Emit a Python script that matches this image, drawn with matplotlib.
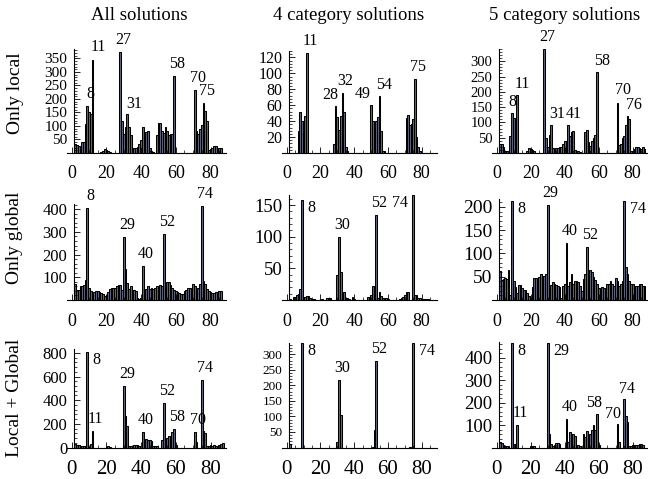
import matplotlib
matplotlib.use('Agg')
import matplotlib.pyplot as plt
import numpy as np
from matplotlib.ticker import MultipleLocator, AutoMinorLocator

plt.rcParams['font.family'] = ['Liberation Serif', 'DejaVu Serif']

#%% Data: number of solutions per index (1..86)

idx = np.arange(1, 87)

local_all = [35, 30, 25, 10, 40, 40, 106, 173, 152, 145,
             343, 0, 0, 0, 0, 3, 8, 15, 12, 8,
             3, 0, 0, 0, 0, 0, 374, 118, 72, 96,
             143, 96, 65, 20, 20, 20, 22, 35, 47, 96,
             65, 78, 80, 20, 8, 3, 0, 68, 110, 110,
             80, 75, 98, 80, 65, 70, 70, 284, 0, 0,
             0, 0, 0, 0, 0, 0, 0, 0, 0, 235,
             80, 70, 88, 105, 185, 155, 120, 10, 15, 18,
             25, 25, 20, 20, 18, 0]
local_4cat = [0, 0, 0, 0, 0, 27, 52, 40, 33, 46,
              126, 0, 0, 0, 0, 0, 0, 0, 0, 0,
              0, 0, 0, 0, 0, 0, 11, 59, 45, 29,
              47, 75, 51, 8, 2, 0, 0, 0, 0, 0,
              0, 0, 0, 0, 0, 0, 0, 0, 60, 40,
              37, 40, 45, 71, 27, 3, 3, 0, 0, 0,
              0, 0, 0, 0, 0, 0, 0, 0, 0, 44,
              48, 35, 36, 43, 93, 20, 8, 2, 0, 0,
              0, 0, 0, 0, 0, 0]
local_5cat = [30, 30, 20, 8, 8, 8, 55, 130, 115, 92,
              188, 0, 0, 0, 0, 0, 5, 15, 13, 10,
              5, 0, 0, 0, 0, 0, 340, 48, 20, 60,
              92, 15, 8, 15, 15, 18, 18, 30, 38, 38,
              92, 55, 68, 72, 10, 5, 5, 3, 0, 0,
              68, 75, 35, 22, 40, 50, 60, 265, 0, 0,
              0, 0, 0, 0, 0, 0, 0, 0, 0, 165,
              25, 30, 50, 55, 90, 122, 110, 8, 8, 12,
              18, 20, 15, 12, 20, 12]

global_all = [70, 45, 45, 60, 60, 65, 90, 405, 55, 40,
              30, 35, 40, 38, 35, 30, 25, 18, 20, 35,
              50, 52, 55, 55, 60, 65, 65, 45, 279, 135,
              75, 50, 60, 45, 45, 40, 10, 5, 8, 148,
              40, 50, 60, 50, 55, 50, 55, 60, 55, 65,
              60, 290, 55, 80, 80, 65, 55, 45, 40, 35,
              30, 28, 25, 40, 45, 55, 55, 50, 70, 60,
              40, 55, 70, 415, 85, 70, 50, 40, 35, 30,
              30, 35, 35, 40, 40, 0]
global_4cat = [2, 0, 5, 5, 8, 10, 18, 158, 5, 5,
               6, 6, 3, 2, 1, 0, 0, 0, 0, 1,
               0, 0, 3, 3, 3, 0, 0, 0, 40, 100,
               45, 8, 12, 3, 3, 2, 0, 5, 1, 0,
               0, 0, 0, 0, 0, 0, 5, 5, 8, 22,
               20, 135, 3, 12, 6, 3, 2, 3, 2, 0,
               0, 0, 0, 0, 0, 1, 3, 5, 8, 12,
               13, 0, 0, 166, 8, 8, 3, 3, 2, 2,
               2, 2, 2, 0, 0, 0]
global_5cat = [62, 42, 45, 48, 45, 65, 10, 213, 40, 28,
               15, 32, 32, 25, 22, 22, 15, 8, 5, 28,
               48, 48, 45, 50, 55, 50, 52, 55, 204, 30,
               32, 38, 35, 32, 30, 28, 5, 30, 35, 122,
               30, 38, 55, 35, 40, 40, 38, 30, 20, 45,
               55, 113, 48, 65, 60, 50, 42, 35, 25, 15,
               28, 25, 20, 35, 35, 40, 35, 30, 48, 40,
               30, 35, 40, 213, 70, 55, 40, 35, 35, 30,
               30, 30, 35, 35, 30, 30]

both_all = [30, 25, 20, 10, 10, 10, 10, 810, 5, 30,
            140, 0, 0, 0, 0, 0, 0, 0, 8, 10,
            5, 0, 0, 0, 0, 0, 0, 0, 520, 270,
            180, 15, 10, 15, 25, 25, 20, 10, 0, 130,
            35, 75, 60, 65, 55, 15, 15, 10, 0, 0,
            60, 380, 25, 80, 100, 100, 130, 155, 25, 0,
            0, 0, 0, 0, 0, 0, 0, 0, 0, 135,
            45, 0, 0, 575, 140, 120, 15, 15, 20, 15,
            20, 15, 15, 20, 30, 35]
both_4cat = [12, 0, 0, 0, 0, 0, 0, 337, 0, 0,
             0, 0, 0, 0, 0, 0, 0, 0, 0, 0,
             0, 0, 0, 0, 0, 0, 0, 0, 18, 218,
             105, 0, 0, 0, 0, 0, 0, 0, 0, 0,
             0, 0, 0, 0, 0, 0, 0, 0, 0, 3,
             55, 280, 0, 0, 0, 0, 0, 0, 0, 0,
             0, 0, 0, 0, 0, 0, 0, 0, 0, 0,
             0, 3, 0, 337, 0, 0, 0, 0, 0, 0,
             0, 0, 0, 0, 0, 0]
both_5cat = [25, 20, 12, 8, 8, 5, 0, 465, 15, 5,
             98, 0, 0, 0, 0, 0, 0, 0, 5, 8,
             5, 0, 0, 0, 0, 0, 0, 0, 465, 60,
             15, 8, 10, 20, 20, 15, 0, 0, 0, 125,
             25, 70, 45, 58, 52, 10, 12, 8, 0, 60,
             45, 75, 30, 60, 80, 98, 80, 148, 10, 0,
             0, 0, 0, 0, 0, 0, 0, 0, 0, 105,
             25, 0, 0, 215, 140, 112, 5, 5, 12, 10,
             12, 12, 15, 15, 12, 0]

col_titles = ['All solutions', '4 category solutions', '5 category solutions']
row_titles = ['Only local', 'Only global', 'Local + Global']

series = [[local_all, local_4cat, local_5cat],
          [global_all, global_4cat, global_5cat],
          [both_all, both_4cat, both_5cat]]

peak_labels = [[[8, 11, 27, 31, 58, 70, 75], [11, 28, 32, 49, 54, 75], [8, 11, 27, 31, 41, 58, 70, 76]],
               [[8, 29, 40, 52, 74], [8, 30, 52, 74], [8, 29, 40, 52, 74]],
               [[8, 11, 29, 40, 52, 58, 70, 74], [8, 30, 52, 74], [8, 11, 29, 40, 58, 70, 74]]]

y_major = [[50, 20, 50], [100, 50, 50], [200, 50, 100]]
y_top = [[385, 128, 340], [423, 166, 217], [833, 338, 469]]

#%% Layout (pixels of a 648x479 figure)

W, H = 648., 479.
col_x0 = [71.7, 286.7, 496.7]       # pixel of x = 0
col_sx = [1.735, 1.6875, 1.70]      # pixel per unit
row_base = [153., 300., 447.5]      # pixel of baseline
top_px = [[49, 51, 49], [204, 195, 199], [349, 342.5, 342]]
ytick_fs = [[11, 11.5, 10.5], [12, 13.5, 14], [12, 9.5, 13.5]]
xtick_fs = [13, 13, 15]
x_lo, x_hi = -2.5, 89.0

bar_face = '#61677a'

# label nudges in pixels (dx, dy) relative to bar top centre
nudge = {}
nudge[(0, 0)] = {11: (6, 5), 31: (7, 2)}
nudge[(0, 1)] = {28: (-5, 3), 49: (-8, 3), 54: (5, 3)}
nudge[(0, 2)] = {8: (0, 3), 11: (5, 3), 31: (6, 3), 41: (6, 3), 58: (5, 3), 70: (6, 5), 76: (6, 3)}
nudge[(2, 2)] = {58: (-3, 3), 70: (-4, 2), 74: (3, 2)}
side_labels = {(1, 1): {8: 'right', 74: 'left'}, (1, 2): {8: 'right', 74: 'right'},
               (2, 1): {8: 'right', 74: 'right'}, (2, 2): {8: 'right', 29: 'right'},
               (2, 0): {8: 'right'}}

fig = plt.figure(figsize=(W / 100, H / 100), dpi=100)

for r in range(3):
    for c in range(3):
        x0, sx = col_x0[c], col_sx[c]
        left = x0 + sx * x_lo
        width = sx * (x_hi - x_lo)
        bottom = row_base[r]
        top = top_px[r][c]
        ax = fig.add_axes([left / W, 1 - bottom / H, width / W, (bottom - top) / H])
        vals = np.array(series[r][c], dtype=float)
        ax.bar(idx + 1, vals, width=1.0, color=bar_face, edgecolor='black', linewidth=0.75)
        ax.set_xlim(x_lo, x_hi)
        ax.set_ylim(0, y_top[r][c])
        ax.spines['top'].set_visible(False)
        ax.spines['right'].set_visible(False)
        ax.spines['left'].set_position(('data', 1.5))
        ax.spines['left'].set_linewidth(0.8)
        ax.spines['bottom'].set_linewidth(0.8)
        ax.patch.set_visible(False)
        ax.xaxis.set_major_locator(MultipleLocator(20))
        ax.xaxis.set_minor_locator(MultipleLocator(5))
        ax.yaxis.set_major_locator(MultipleLocator(y_major[r][c]))
        ax.yaxis.set_minor_locator(AutoMinorLocator(5))
        ax.tick_params(axis='both', which='major', direction='in', length=4, width=0.6)
        ax.tick_params(axis='both', which='minor', direction='in', length=2, width=0.5)
        ax.tick_params(axis='x', labelsize=xtick_fs[r], pad=9)
        ax.tick_params(axis='y', labelsize=ytick_fs[r][c], pad=5)
        yt = [t for t in ax.get_yticks() if 0 < t <= y_top[r][c] or (r == 2 and c == 0 and t == 0)]
        ax.set_yticks(yt)
        ax.set_yticklabels(['%d' % t for t in yt])

        for k in peak_labels[r][c]:
            h = vals[k - 1]
            side = side_labels.get((r, c), {}).get(k)
            if side == 'right':
                ax.annotate(str(k), (k + 1, h), xytext=(4, 0), textcoords='offset points',
                            ha='left', va='top', fontsize=11.5, annotation_clip=False)
            elif side == 'left':
                ax.annotate(str(k), (k + 1, h), xytext=(-4, 0), textcoords='offset points',
                            ha='right', va='top', fontsize=11.5, annotation_clip=False)
            else:
                dx, dy = nudge.get((r, c), {}).get(k, (3, 4))
                ax.annotate(str(k), (k + 1, h), xytext=(dx * 0.72, dy * 0.72),
                            textcoords='offset points', ha='center', va='bottom',
                            fontsize=11.5, annotation_clip=False)

# column and row titles
for c, t in enumerate(col_titles):
    fig.text([139, 349, 565][c] / W, 1 - 15 / H, t, ha='center', va='center', fontsize=13.5)
for r, t in enumerate(row_titles):
    fig.text(15 / W, 1 - [93, 238, 398][r] / H, t, ha='center', va='center',
             rotation=90, fontsize=14)

fig.savefig('out.png', dpi=100)
